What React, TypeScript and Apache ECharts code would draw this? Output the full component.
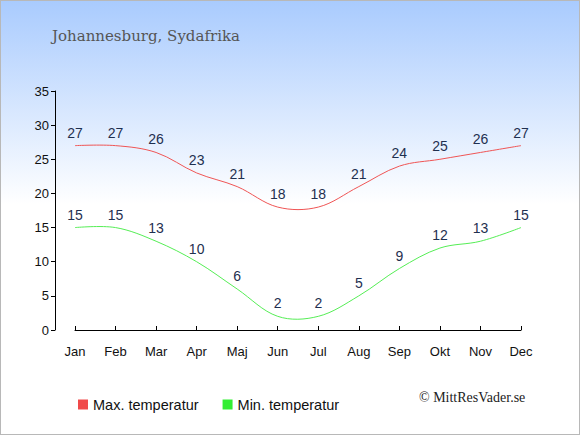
import React, { useEffect, useRef } from "react";
import * as echarts from "echarts";

const months = ["Jan", "Feb", "Mar", "Apr", "Maj", "Jun", "Jul", "Aug", "Sep", "Okt", "Nov", "Dec"];
const maxTemp = [27, 27, 26, 23, 21, 18, 18, 21, 24, 25, 26, 27];
const minTemp = [15, 15, 13, 10, 6, 2, 2, 5, 9, 12, 13, 15];
const seriesNames = ["Max. temperatur", "Min. temperatur"];

const SANS = "Liberation Sans, Arial, sans-serif";
const SERIF = "DejaVu Serif, serif";

function curve(values: number[], stroke: string) {
  return {
    type: "custom",
    silent: true,
    clip: false,
    data: [[0, 0]],
    renderItem: (_p: any, api: any) => {
      const pts = values.map((v, i) => api.coord([i, v]));
      return {
        type: "polyline",
        shape: { points: pts, smooth: 0.35 },
        style: { stroke, fill: null, lineWidth: 1 },
      };
    },
  };
}

export default function App() {
  const ref = useRef<HTMLDivElement>(null);
  useEffect(() => {
    document.body.style.margin = "0";
    const chart = echarts.init(ref.current!, null, { renderer: "svg" });
    const labelStyle = { show: true, position: "top", distance: 6, color: "#1f3050", fontSize: 14, fontFamily: SANS };
    chart.setOption({
      animation: false,
      backgroundColor: new echarts.graphic.LinearGradient(0, 0, 0, 1, [
        { offset: 0, color: "#a9cbfe" },
        { offset: 0.47, color: "#ffffff" },
        { offset: 1, color: "#ffffff" },
      ]),
      title: {
        text: "Johannesburg, Sydafrika",
        left: 46,
        top: 22,
        textStyle: { color: "#555555", fontSize: 15, fontWeight: "normal", fontFamily: SERIF },
      },
      grid: { left: 74, right: 58, top: 90, bottom: 104 },
      legend: {
        left: 72,
        top: 391,
        itemWidth: 10,
        itemHeight: 10,
        itemGap: 24,
        icon: "rect",
        textStyle: { color: "#111", fontSize: 14.5, fontFamily: SANS },
        data: seriesNames,
      },
      graphic: [
        {
          type: "text",
          left: 418,
          top: 389,
          style: { text: "© MittResVader.se", fill: "#222", fontSize: 14, fontFamily: "Liberation Serif, serif" },
        },
      ],
      xAxis: {
        type: "category",
        data: months,
        boundaryGap: false,
        offset: 10,
        axisLine: { lineStyle: { color: "#000", width: 1 } },
        axisTick: { inside: true, length: 4, alignWithLabel: true, lineStyle: { color: "#000" } },
        axisLabel: { color: "#111", fontSize: 13, fontFamily: SANS, margin: 5, interval: 0 },
        splitLine: { show: false },
      },
      yAxis: {
        type: "value",
        min: 0,
        max: 35,
        interval: 5,
        offset: 20,
        axisLine: { show: true, lineStyle: { color: "#000", width: 1 } },
        axisTick: { show: true, length: 4, lineStyle: { color: "#000" } },
        axisLabel: { color: "#111", fontSize: 13, fontFamily: SANS, margin: 6 },
        splitLine: { show: false },
      },
      series: [
        {
          name: seriesNames[0],
          type: "line",
          data: maxTemp,
          symbol: "circle",
          symbolSize: 0,
          showSymbol: true,
          color: "#f04a4a",
          lineStyle: { width: 0, opacity: 0 },
          label: labelStyle,
        },
        {
          name: seriesNames[1],
          type: "line",
          data: minTemp,
          symbol: "circle",
          symbolSize: 0,
          showSymbol: true,
          color: "#33ee33",
          lineStyle: { width: 0, opacity: 0 },
          label: labelStyle,
        },
        curve(maxTemp, "#f05555"),
        curve(minTemp, "#55ee55"),
      ],
    });
    return () => chart.dispose();
  }, []);
  return <div ref={ref} style={{ width: 578, height: 433, border: "1px solid #b8b8b8" }} />;
}
